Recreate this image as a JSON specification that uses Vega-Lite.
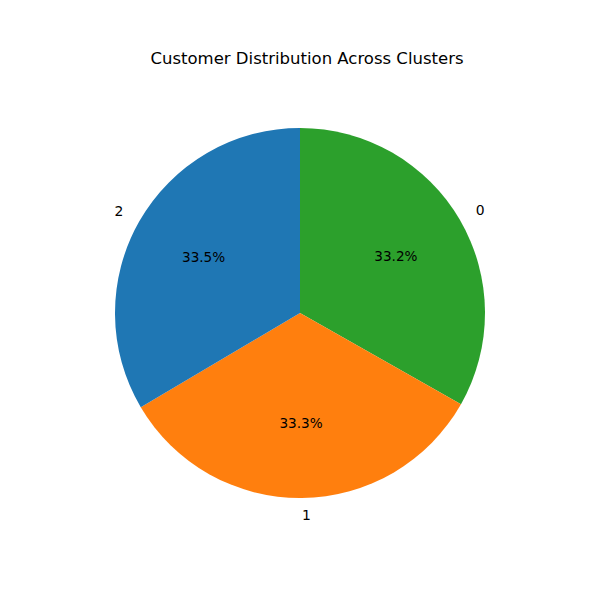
{
  "$schema": "https://vega.github.io/schema/vega-lite/v6.json",
  "autosize": "none",
  "width": 600,
  "height": 600,
  "padding": {"top": 13, "left": 0, "right": 0, "bottom": 0},
  "background": "white",
  "title": {
    "text": "Customer Distribution Across Clusters",
    "font": "DejaVu Sans",
    "fontSize": 16.5,
    "fontWeight": "normal",
    "color": "black",
    "offset": -54,
    "dx": 7
  },
  "data": {
    "values": [
      {"cluster": "0", "share": 0.332},
      {"cluster": "1", "share": 0.333},
      {"cluster": "2", "share": 0.335}
    ]
  },
  "encoding": {
    "theta": {"field": "share", "type": "quantitative", "stack": true},
    "order": {"field": "cluster", "type": "ordinal", "sort": "ascending"}
  },
  "layer": [
    {
      "mark": {"type": "arc", "outerRadius": 185},
      "encoding": {
        "color": {
          "field": "cluster",
          "type": "nominal",
          "scale": {"domain": ["0", "1", "2"], "range": ["#2ca02c", "#ff7f0e", "#1f77b4"]},
          "legend": null
        }
      }
    },
    {
      "mark": {"type": "text", "radius": 203.5, "font": "DejaVu Sans", "fontSize": 13.9, "color": "black", "baseline": "middle", "align": "left"},
      "encoding": {
        "text": {"condition": {"test": "datum.cluster !== '2'", "field": "cluster", "type": "nominal"}, "value": ""}
      }
    },
    {
      "mark": {"type": "text", "radius": 203.5, "font": "DejaVu Sans", "fontSize": 13.9, "color": "black", "baseline": "middle", "align": "right"},
      "encoding": {
        "text": {"condition": {"test": "datum.cluster === '2'", "field": "cluster", "type": "nominal"}, "value": ""}
      }
    },
    {
      "mark": {"type": "text", "radius": 111, "font": "DejaVu Sans", "fontSize": 13.6, "color": "black", "align": "center", "baseline": "middle"},
      "encoding": {"text": {"field": "share", "type": "quantitative", "format": ".1%"}}
    }
  ]
}
